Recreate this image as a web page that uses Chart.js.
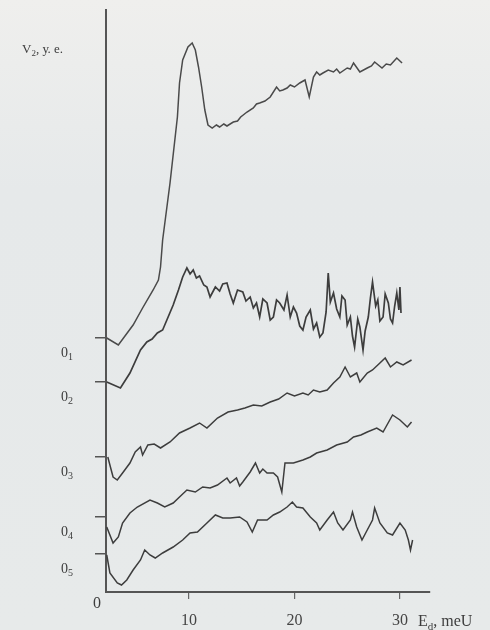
<!DOCTYPE html>
<html>
<head>
<meta charset="utf-8">
<script src="https://cdn.jsdelivr.net/npm/chart.js@4.4.1/dist/chart.umd.min.js"></script>
<style>
  html, body { margin: 0; padding: 0; background: #e8ebeb; }
  #wrap { width: 490px; height: 630px; position: relative; }
</style>
</head>
<body>
<div id="wrap"><canvas id="chart"></canvas></div>
<script>
// x ticks (meU) and the zero levels of the five shifted curves (arb. units)
const xTicks = [10, 20, 30];
const zeroLevels = [50.8, 42, 27, 15, 7.6];
const zeroNames = ['1', '2', '3', '4', '5'];

// curve points: [E_d, V2]
const curve1 = [[2.2,50.8],[3.3,49.4],[4.7,53.4],[5.6,56.8],[6.6,60.4],[7.1,62.4],[7.3,65],[7.5,70.4],
  [8.2,81.8],[8.9,95],[9.1,101.8],[9.4,106.4],[9.9,109],[10.3,109.8],[10.6,108.4],[10.9,105],[11.2,101],
  [11.5,96.4],[11.8,93.4],[12.2,92.8],[12.6,93.4],[12.9,93],[13.3,93.6],[13.6,93.2],[14.2,94],[14.6,94.2],
  [14.9,95],[15.5,96],[16.1,96.8],[16.4,97.6],[16.7,97.8],[17.2,98.2],[17.7,99],[18.3,101],[18.6,100.2],
  [18.9,100.4],[19.3,100.8],[19.6,101.4],[20.0,101],[20.5,101.8],[21.0,102.4],[21.4,99],[21.8,103],
  [22.1,104],[22.4,103.4],[22.7,103.8],[23.2,104.4],[23.7,104],[24.0,104.6],[24.3,103.8],[25.0,104.8],
  [25.3,104.6],[25.6,105.8],[26.2,104],[26.9,104.8],[27.3,105.2],[27.6,106],[28.3,104.8],[28.7,105.6],
  [29.1,105.4],[29.7,106.8],[30.2,105.8]];

const curve2 = [[2.2,42],[3.5,40.8],[4.4,43.8],[5.4,48.4],[6.0,50],[6.5,50.6],[7.0,51.8],[7.5,52.4],
  [7.9,54.4],[8.5,57.4],[9.0,60.4],[9.4,63],[9.8,64.8],[10.1,63.6],[10.4,64.4],[10.7,62.8],[11.0,63.2],
  [11.4,61.4],[11.7,61],[12.0,59],[12.5,61],[12.9,60.2],[13.2,61.6],[13.6,61.8],[13.9,59.6],[14.2,57.8],
  [14.6,60.4],[15.1,60],[15.4,58.2],[15.8,59],[16.1,56.8],[16.4,57.8],[16.7,55],[17.0,58.6],[17.4,57.8],
  [17.7,54.4],[18.0,55],[18.3,58.4],[18.6,57.8],[19.0,56.4],[19.3,59.4],[19.6,55],[19.9,57],[20.2,55.8],
  [20.5,53.2],[20.8,52.4],[21.1,55],[21.5,56.4],[21.8,52.6],[22.1,53.8],[22.4,51],[22.7,51.8],[23.0,56],
  [23.2,63.8],[23.4,58],[23.7,59.8],[24.0,56.6],[24.3,55],[24.5,59.2],[24.8,58.4],[25.0,53.4],[25.3,55],
  [25.5,51.2],[25.7,49],[26.0,54.6],[26.2,53],[26.5,48.4],[26.7,52.2],[27.0,55],[27.2,58.8],[27.4,62],
  [27.7,57.2],[27.9,58.4],[28.1,54.2],[28.4,55],[28.6,59.6],[28.9,57.8],[29.1,54.6],[29.3,53.8],[29.5,57.2],
  [29.7,59.8],[29.9,56.4],[30.0,61],[30.1,55.8]];

const curve3 = [[2.3,27],[2.8,23],[3.2,22.4],[3.7,23.8],[4.4,25.8],[4.9,28],[5.4,29],[5.6,27.4],[6.1,29.4],
  [6.7,29.6],[7.3,28.8],[8.2,30],[9.1,31.8],[10.1,32.8],[11.0,33.8],[11.7,32.8],[12.7,34.8],[13.7,36],
  [14.6,36.4],[15.3,36.8],[16.1,37.4],[16.9,37.2],[17.7,38],[18.5,38.6],[19.3,39.8],[20.0,39.2],[20.8,39.8],
  [21.3,39.4],[21.8,40.4],[22.4,40],[23.1,40.4],[23.7,41.8],[24.3,43],[24.8,45],[25.3,43],[25.9,43.8],
  [26.2,42],[26.9,43.8],[27.4,44.4],[28.1,45.8],[28.6,46.8],[29.1,45],[29.7,46],[30.3,45.4],[31.1,46.4]];

const curve4 = [[2.2,13],[2.8,9.8],[3.3,11],[3.7,13.8],[4.4,15.8],[5.1,17],[6.3,18.4],[7.0,17.8],[7.7,17],
  [8.5,17.8],[9.1,19],[9.8,20.4],[10.6,20],[11.3,21],[12.0,20.8],[12.7,21.4],[13.6,22.8],[13.9,21.8],
  [14.5,22.8],[14.8,21.2],[15.1,22],[15.8,24],[16.3,25.8],[16.7,23.8],[17.0,24.6],[17.4,23.8],[18.0,23.8],
  [18.4,23],[18.8,20],[19.1,25.8],[19.9,25.8],[20.8,26.4],[21.5,27],[22.1,27.8],[23.1,28.4],[24.0,29.4],
  [25.0,30],[25.6,31],[26.3,31.4],[26.9,32],[27.8,32.8],[28.4,32],[29.3,35.4],[30.0,34.4],[30.7,33],[31.1,34]];

const curve5 = [[2.2,7.4],[2.5,3.8],[3.2,1.8],[3.6,1.4],[4.1,2.4],[4.7,4.4],[5.4,6.4],[5.8,8.4],[6.3,7.4],
  [6.8,6.8],[7.5,7.8],[8.5,9],[9.4,10.4],[10.1,11.8],[10.8,12],[11.7,13.8],[12.5,15.4],[13.2,14.8],
  [13.9,14.8],[14.8,15],[15.5,14],[16.0,12],[16.5,14.4],[17.4,14.4],[18.0,15.4],[18.6,16],[19.3,17],
  [19.8,18],[20.2,17],[20.8,16.8],[21.5,15],[22.1,13.8],[22.4,12.4],[23.1,14.4],[23.7,16],[24.1,13.8],
  [24.6,12.4],[25.3,14.4],[25.5,16],[25.9,13],[26.4,10.4],[26.9,12.4],[27.4,14.4],[27.6,16.8],[28.1,13.8],
  [28.8,11.8],[29.3,11.4],[30.0,13.8],[30.5,12.4],[30.8,10.4],[31.0,8.4],[31.2,10.4]];

const curves = [curve1, curve2, curve3, curve4, curve5];

const SERIF = "'Liberation Serif', 'DejaVu Serif', serif";
const INK = '#3d3d3d';

// text with a subscript part, e.g. V₂ or 0₁
function drawSub(ctx, main, sub, rest, x, y, size, align) {
    ctx.font = size + 'px ' + SERIF;
    const w1 = ctx.measureText(main).width;
    ctx.font = Math.round(size * 0.7) + 'px ' + SERIF;
    const w2 = ctx.measureText(sub).width;
    ctx.font = size + 'px ' + SERIF;
    const w3 = ctx.measureText(rest).width;
    let start = align === 'right' ? x - (w1 + w2 + w3) : x;
    ctx.textAlign = 'left';
    ctx.textBaseline = 'middle';
    ctx.fillText(main, start, y);
    ctx.font = Math.round(size * 0.7) + 'px ' + SERIF;
    ctx.fillText(sub, start + w1, y + size * 0.3);
    ctx.font = size + 'px ' + SERIF;
    ctx.fillText(rest, start + w1 + w2, y);
}

const paperPlugin = {
    id: 'paper',
    beforeDraw(chart) {
        const c = chart.ctx;
        const g = c.createLinearGradient(0, 0, 0, chart.height);
        g.addColorStop(0, '#efefed');
        g.addColorStop(0.3, '#e6e9ea');
        g.addColorStop(1, '#e7eaea');
        c.save();
        c.fillStyle = g;
        c.fillRect(0, 0, chart.width, chart.height);
        c.restore();
    },
    afterDraw(chart) {
        const c = chart.ctx;
        const y = chart.scales.y;
        c.save();
        c.fillStyle = INK;
        drawSub(c, 'V', '2', ', у. е.', 22, 50, 13, 'left');
        zeroLevels.forEach((v, i) => {
            drawSub(c, '0', zeroNames[i], '', 73, y.getPixelForValue(v) + 15, 14, 'right');
        });
        c.font = '16px ' + SERIF;
        c.textAlign = 'center';
        c.textBaseline = 'middle';
        c.fillText('0', 97, 604);
        drawSub(c, 'E', 'd', ', meU', 418, 622, 16, 'left');
        c.restore();
    }
};

new Chart(document.getElementById('chart'), {
    type: 'line',
    data: {
        datasets: curves.map((pts, i) => ({
            label: 'curve ' + (i + 1),
            data: pts.map(([x, v]) => ({ x: x, y: v })),
            borderColor: i === 0 ? '#4a4a4a' : INK,
            borderWidth: i === 1 ? 1.7 : 1.5,
            pointRadius: 0,
            tension: 0,
            fill: false
        }))
    },
    options: {
        responsive: true,
        maintainAspectRatio: false,
        animation: false,
        events: [],
        layout: { padding: { top: 10, right: 60, left: 0, bottom: 0 } },
        plugins: {
            legend: { display: false },
            tooltip: { enabled: false }
        },
        scales: {
            x: {
                type: 'linear',
                min: 2.13,
                max: 32.85,
                afterBuildTicks: s => { s.ticks = xTicks.map(v => ({ value: v })); },
                afterFit: s => { s.height = 38; },
                grid: { drawOnChartArea: false, drawTicks: true, tickLength: 7, color: '#666', lineWidth: 1.2 },
                border: { color: '#555', width: 2 },
                ticks: {
                    color: '#444',
                    padding: 12,
                    maxRotation: 0,
                    autoSkip: false,
                    font: { family: SERIF, size: 16 }
                }
            },
            y: {
                type: 'linear',
                min: 0,
                max: 116.4,
                afterBuildTicks: s => { s.ticks = zeroLevels.map(v => ({ value: v })); },
                afterFit: s => { s.width = 106; },
                grid: { drawOnChartArea: false, drawTicks: true, tickLength: 11, color: '#555', lineWidth: 1.5 },
                border: { color: '#555', width: 2 },
                ticks: { display: false }
            }
        }
    },
    plugins: [paperPlugin]
});
</script>
</body>
</html>
